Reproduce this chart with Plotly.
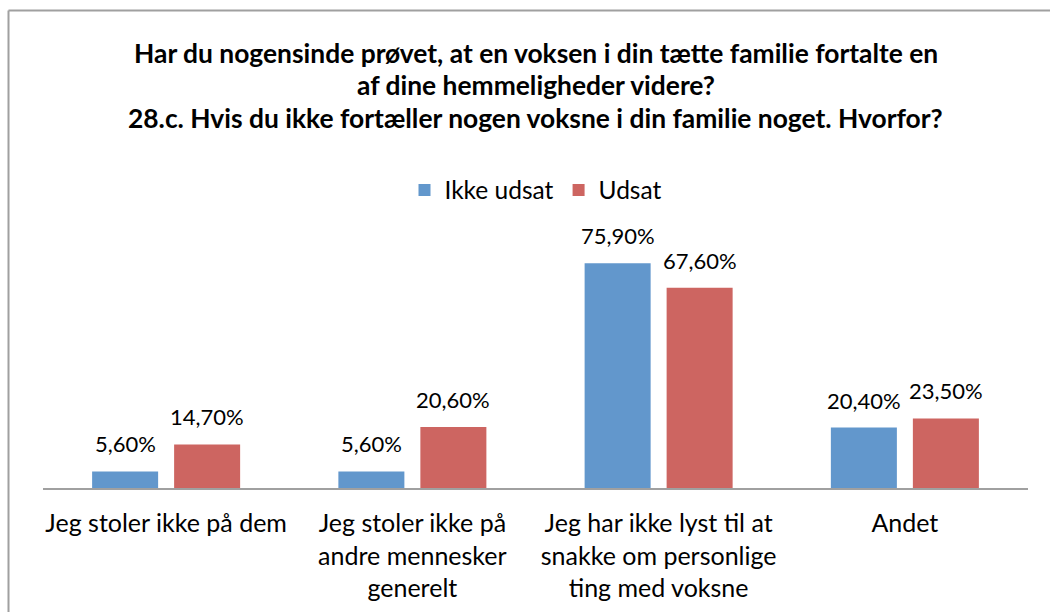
import plotly.graph_objects as go

categories = [
    "Jeg stoler ikke på dem",
    "Jeg stoler ikke på<br>andre mennesker<br>generelt",
    "Jeg har ikke lyst til at<br>snakke om personlige<br>ting med voksne",
    "Andet",
]
series_names = ["Ikke udsat", "Udsat"]
ikke_udsat = [5.6, 5.6, 75.9, 20.4]
udsat = [14.7, 20.6, 67.6, 23.5]
title_lines = [
    "Har du nogensinde prøvet, at en voksen i din tætte familie fortalte en",
    "af dine hemmeligheder videre?",
    "28.c. Hvis du ikke fortæller nogen voksne i din familie noget. Hvorfor?",
]

colors = ["#6297CC", "#CD6561"]
FONT = "Lato, Calibri, Carlito, sans-serif"

fig = go.Figure()
for name, vals, col in zip(series_names, [ikke_udsat, udsat], colors):
    fig.add_trace(go.Bar(x=categories, y=vals, name=name, marker_color=col,
                         marker_line_width=0))

def fmt(v):
    return f"{v:.2f}".replace(".", ",") + "%"

annotations = []
# data labels
bar_shift = 41
for vals, sh in zip([ikke_udsat, udsat], [-bar_shift, bar_shift]):
    for c, v in zip(categories, vals):
        annotations.append(dict(x=c, y=v, xref="x", yref="y", text=fmt(v),
                                showarrow=False, xshift=sh, yshift=12,
                                yanchor="bottom",
                                font=dict(family=FONT, size=22, color="#000")))
# title lines
for t, py in zip(title_lines, [53, 85, 118]):
    annotations.append(dict(x=0.5, y=(488 - py) / 237, xref="paper", yref="paper",
                            text=f"<b>{t}</b>", showarrow=False, yanchor="middle",
                            font=dict(family=FONT, size=26.4, color="#000")))

fig.update_layout(
    width=1050, height=612,
    margin=dict(l=43, r=22, t=251, b=124, autoexpand=False),
    paper_bgcolor="white", plot_bgcolor="white",
    barmode="group", bargap=0.334, bargroupgap=0.195,
    font=dict(family=FONT, size=24, color="#000"),
    showlegend=True,
    legend=dict(orientation="h", x=0.5, xanchor="center", yref="container",
                y=1 - 190 / 612, yanchor="middle", font=dict(family=FONT, size=24.5),
                itemwidth=30, traceorder="normal"),
    annotations=annotations,
)
fig.update_xaxes(showline=True, linecolor="#A0A0A0", linewidth=2, ticks="",
                 automargin=False, ticklabelstandoff=12,
                 tickfont=dict(family=FONT, size=25, color="#000"), showgrid=False)
fig.update_yaxes(range=[0, 80], visible=False, showgrid=False, automargin=False)

# chart outer border (top and left visible in the reference)
fig.add_shape(type="line", xref="paper", yref="paper",
              x0=-34.5 / 985, x1=1 + 22 / 985, y0=(488 - 10.5) / 237, y1=(488 - 10.5) / 237,
              line=dict(color="#A0A0A0", width=2))
fig.add_shape(type="line", xref="paper", yref="paper",
              x0=-34.5 / 985, x1=-34.5 / 985, y0=(488 - 10.5) / 237, y1=(488 - 620) / 237,
              line=dict(color="#A0A0A0", width=2))

fig.write_html("out.html", config={"displayModeBar": False},
               post_script="document.body.style.margin='0px';")
